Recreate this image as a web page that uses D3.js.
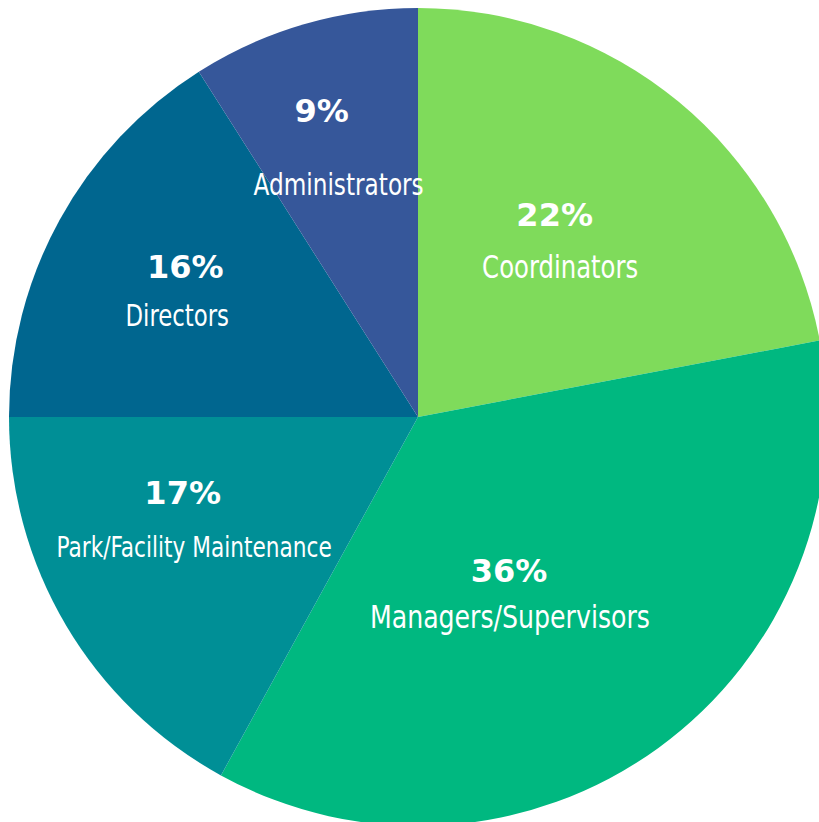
<!DOCTYPE html>
<html>
<head>
<meta charset="utf-8">
<script src="https://cdn.jsdelivr.net/npm/d3@7"></script>
<style>
  body { margin: 0; background: #fff; overflow: hidden; }
  .pct { font-family: "DejaVu Sans", sans-serif; font-weight: bold; fill: #fff; }
  .name { font-family: "DejaVu Sans Condensed", "DejaVu Sans", sans-serif; font-stretch: condensed; fill: #fff; }
</style>
</head>
<body>
<div id="chart"></div>
<script>
const categories = ['Coordinators', 'Managers/Supervisors', 'Park/Facility Maintenance', 'Directors', 'Administrators'];
const shares = [22, 36, 17, 16, 9];
const colors = ['#7fdb5b', '#00b880', '#008f96', '#00668f', '#36579a'];

// label placement per slice: distance from centre, angle shift (deg),
// x shift of the % line, gap between baselines, name font size
const layout = {
    'Coordinators':              {r: 218, da: 1.1,  pdx: -5.5, gap: 52, fs: 31.5},
    'Managers/Supervisors':      {r: 209, da: 9.9,  pdx: -1,   gap: 46, fs: 32.6},
    'Park/Facility Maintenance': {r: 251, da: 3.7,  pdx: -11.5, gap: 53, fs: 28},
    'Directors':                 {r: 267, da: -3.2, pdx: 8,    gap: 48, fs: 29.5},
    'Administrators':            {r: 270, da: -0.9, pdx: -17,  gap: 73, fs: 30}
};

const width = 819, height = 822;
const cx = 418, cy = 417, radius = 409;
const squeeze = 0.86;

const data = categories.map((c, i) => ({name: c, value: shares[i], color: colors[i]}));

const svg = d3.select('#chart').append('svg')
    .attr('width', width)
    .attr('height', height);

const g = svg.append('g')
    .attr('transform', `translate(${cx},${cy})`);

const pie = d3.pie()
    .sort(null)
    .value(d => d.value);

const arc = d3.arc()
    .innerRadius(0)
    .outerRadius(radius);

const arcs = pie(data);

g.selectAll('path')
    .data(arcs)
    .enter()
    .append('path')
    .attr('d', arc)
    .attr('fill', d => d.data.color);

const labels = g.selectAll('.label')
    .data(arcs)
    .enter()
    .append('g')
    .attr('class', 'label')
    .attr('transform', d => {
        const l = layout[d.data.name];
        const a = (d.startAngle + d.endAngle) / 2 + l.da * Math.PI / 180;
        return `translate(${Math.sin(a) * l.r},${-Math.cos(a) * l.r})`;
    });

labels.append('text')
    .attr('class', 'pct')
    .attr('text-anchor', 'middle')
    .attr('x', d => layout[d.data.name].pdx)
    .attr('y', d => -layout[d.data.name].gap / 2)
    .style('font-size', '32px')
    .text(d => d.data.value + '%');

labels.append('text')
    .attr('class', 'name')
    .attr('text-anchor', 'middle')
    .attr('transform', d => `translate(0,${layout[d.data.name].gap / 2}) scale(${squeeze},1)`)
    .style('font-size', d => layout[d.data.name].fs + 'px')
    .text(d => d.data.name);
</script>
</body>
</html>
